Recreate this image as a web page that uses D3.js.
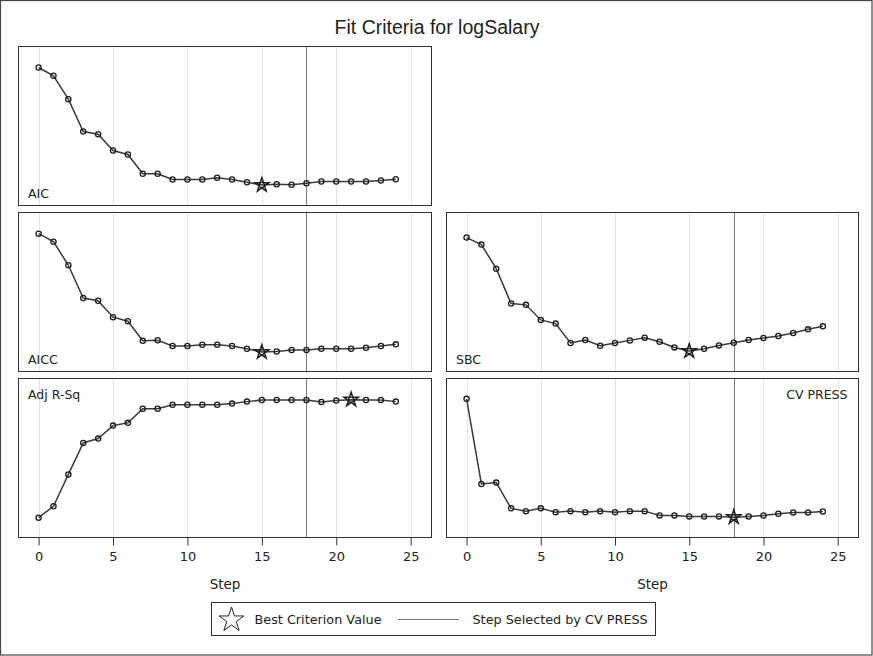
<!DOCTYPE html>
<html>
<head>
<meta charset="utf-8">
<script src="https://d3js.org/d3.v7.min.js"></script>
<style>
  body { margin: 0; background: #fff; }
  text { font-family: "DejaVu Sans", sans-serif; fill: #222; }
</style>
</head>
<body>
<script>
// data
var steps = [0,1,2,3,4,5,6,7,8,9,10,11,12,13,14,15,16,17,18,19,20,21,22,23,24];
var aic = [-140.0,-148.3,-171.7,-204.0,-206.7,-223.0,-227.0,-246.3,-246.3,-252.0,-252.0,-252.0,-250.3,-252.0,-254.7,-257.5,-256.7,-257.2,-255.7,-254.0,-254.0,-254.0,-254.0,-253.0,-251.7];
var aicc = [224.0,216.0,192.6,160.0,157.3,141.0,137.0,117.6,118.0,112.3,112.3,113.6,113.6,112.3,109.6,106.3,106.8,108.3,108.3,109.6,109.6,109.6,110.6,112.3,114.0];
var adjRsq = [0.260,0.289,0.370,0.450,0.461,0.494,0.501,0.537,0.537,0.547,0.547,0.547,0.547,0.550,0.555,0.559,0.559,0.559,0.559,0.554,0.558,0.560,0.559,0.559,0.555];
var sbc = [-120.0,-127.0,-151.0,-185.7,-187.0,-202.0,-205.7,-225.0,-222.0,-227.7,-225.0,-222.4,-219.7,-223.7,-229.4,-233.0,-230.7,-227.4,-224.7,-222.0,-220.0,-218.0,-215.0,-211.4,-208.4];
var cvPress = [200.0,132.2,133.3,112.8,110.6,112.8,109.8,110.6,109.8,110.6,109.8,110.6,110.6,107.2,107.2,106.4,106.4,106.4,105.8,106.4,107.2,108.5,109.6,109.6,110.4];

var panelNames = ["AIC", "AICC", "Adj R-Sq", "SBC", "CV PRESS"];
var panelValues = [aic, aicc, adjRsq, sbc, cvPress];
var bestStep = [15, 15, 21, 15, 18];
var yDomains = [[-278, -119], [87, 245], [0.2095, 0.6138], [-253.4, -95], [89.6, 216.2]];
var selectedStep = 18;
var xTicks = [0, 5, 10, 15, 20, 25];

var width = 873, height = 656;

var svg = d3.select("body").append("svg")
    .attr("width", width)
    .attr("height", height);

// outer frame
svg.append("rect")
    .attr("x", 0.5).attr("y", 0.5)
    .attr("width", width - 1.5).attr("height", height - 1.5)
    .attr("fill", "#fff")
    .attr("stroke", "#444")
    .attr("stroke-width", 1.2);

svg.append("text")
    .attr("x", 437).attr("y", 34)
    .attr("text-anchor", "middle")
    .style("font-family", "'Liberation Sans', Arial, sans-serif")
    .style("font-size", "19.5px")
    .text("Fit Criteria for logSalary");

// panel boxes: column, row
var cols = [[18.5, 431.5], [446.5, 858.5]];
var rows = [[46.5, 205.5], [212.5, 371.5], [378.5, 537.5]];
var panelPos = [[0, 0], [0, 1], [0, 2], [1, 1], [1, 2]];
// label placement: bottom-left, top-left or top-right
var labelPos = ["bl", "bl", "tl", "bl", "tr"];

var star = d3.symbol().type(d3.symbolStar);

panelNames.forEach(function(name, i) {
    var c = cols[panelPos[i][0]], r = rows[panelPos[i][1]];
    var x = d3.scaleLinear().domain([-1.35, 26.4]).range([c[0], c[1]]);
    var y = d3.scaleLinear().domain(yDomains[i]).range([r[1], r[0]]);
    var vals = panelValues[i];
    var g = svg.append("g");

    // vertical grid
    g.selectAll(".grid").data(xTicks).enter().append("line")
        .attr("x1", function(d) { return Math.round(x(d)) + 0.5; })
        .attr("x2", function(d) { return Math.round(x(d)) + 0.5; })
        .attr("y1", r[0]).attr("y2", r[1])
        .attr("stroke", "#e4e4e4")
        .attr("stroke-width", 1);

    // step selected by CV PRESS
    g.append("line")
        .attr("x1", Math.round(x(selectedStep)) + 0.5)
        .attr("x2", Math.round(x(selectedStep)) + 0.5)
        .attr("y1", r[0]).attr("y2", r[1])
        .attr("stroke", "#7a7a7a")
        .attr("stroke-width", 1);

    g.append("path")
        .datum(steps)
        .attr("fill", "none")
        .attr("stroke", "#3a3a3a")
        .attr("stroke-width", 1.5)
        .attr("d", d3.line()
            .x(function(d) { return x(d); })
            .y(function(d, j) { return y(vals[j]); }));

    g.selectAll(".pt").data(steps).enter().append("circle")
        .attr("cx", function(d) { return x(d); })
        .attr("cy", function(d, j) { return y(vals[j]); })
        .attr("r", 2.6)
        .attr("fill", "none")
        .attr("stroke", "#1e1e1e")
        .attr("stroke-width", 1.3);

    g.append("path")
        .attr("d", star.size(62)())
        .attr("transform", "translate(" + x(bestStep[i]) + "," + y(vals[bestStep[i]]) + ")")
        .attr("fill", "none")
        .attr("stroke", "#1e1e1e")
        .attr("stroke-width", 1.5);

    g.append("rect")
        .attr("x", c[0]).attr("y", r[0])
        .attr("width", c[1] - c[0]).attr("height", r[1] - r[0])
        .attr("fill", "none")
        .attr("stroke", "#333")
        .attr("stroke-width", 1);

    var lp = labelPos[i];
    g.append("text")
        .attr("x", lp == "tr" ? c[1] - 11 : c[0] + 9.5)
        .attr("y", lp == "bl" ? r[1] - 8 : r[0] + 20)
        .attr("text-anchor", lp == "tr" ? "end" : "start")
        .style("font-size", "12.5px")
        .text(name);

    // x axis under the bottom panels
    if (panelPos[i][1] == 2) {
        var axis = g.append("g")
            .attr("transform", "translate(0," + r[1] + ")")
            .call(d3.axisBottom(x).tickValues(xTicks).tickSize(8).tickPadding(6).tickSizeOuter(0));
        axis.select(".domain").remove();
        axis.selectAll("line").attr("stroke", "#333");
        axis.selectAll("text")
            .style("font-family", "'DejaVu Sans', sans-serif")
            .style("font-size", "13px")
            .attr("fill", "#222");
        g.append("text")
            .attr("x", (c[0] + c[1]) / 2).attr("y", 589)
            .attr("text-anchor", "middle")
            .style("font-size", "13.5px")
            .text("Step");
    }
});

// legend
var lg = svg.append("g");
lg.append("rect")
    .attr("x", 211.5).attr("y", 602.5)
    .attr("width", 444).attr("height", 33)
    .attr("fill", "none")
    .attr("stroke", "#333")
    .attr("stroke-width", 1);
lg.append("path")
    .attr("d", star.size(190)())
    .attr("transform", "translate(231.5,620)")
    .attr("fill", "none")
    .attr("stroke", "#222")
    .attr("stroke-width", 1);
lg.append("text")
    .attr("x", 254.5).attr("y", 623.5)
    .style("font-size", "12.8px")
    .text("Best Criterion Value");
lg.append("line")
    .attr("x1", 398).attr("x2", 459)
    .attr("y1", 619.5).attr("y2", 619.5)
    .attr("stroke", "#7a7a7a")
    .attr("stroke-width", 1);
lg.append("text")
    .attr("x", 472.5).attr("y", 623.5)
    .style("font-size", "12.8px")
    .text("Step Selected by CV PRESS");
</script>
</body>
</html>
